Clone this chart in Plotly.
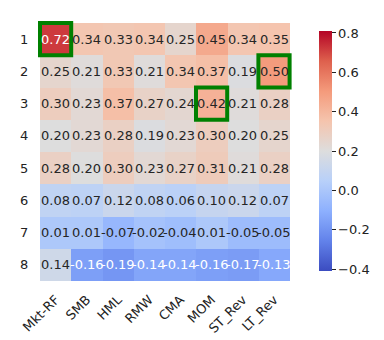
import plotly.graph_objects as go


factors = ["Mkt-RF", "SMB", "HML", "RMW", "CMA", "MOM", "ST_Rev", "LT_Rev"]
rows = ["1", "2", "3", "4", "5", "6", "7", "8"]

corr = [
    [0.72, 0.34, 0.33, 0.34, 0.25, 0.45, 0.34, 0.35],
    [0.25, 0.21, 0.33, 0.21, 0.34, 0.37, 0.19, 0.50],
    [0.30, 0.23, 0.37, 0.27, 0.24, 0.42, 0.21, 0.28],
    [0.20, 0.23, 0.28, 0.19, 0.23, 0.30, 0.20, 0.25],
    [0.28, 0.20, 0.30, 0.23, 0.27, 0.31, 0.21, 0.28],
    [0.08, 0.07, 0.12, 0.08, 0.06, 0.10, 0.12, 0.07],
    [0.01, 0.01, -0.07, -0.02, -0.04, 0.01, -0.05, -0.05],
    [0.14, -0.16, -0.19, -0.14, -0.14, -0.16, -0.17, -0.13],
]

# cells outlined in green (row label, factor)
highlight = [("1", "Mkt-RF"), ("2", "LT_Rev"), ("3", "MOM")]

# matplotlib "coolwarm"
coolwarm = [
    (0.0, "rgb(59,76,192)"),
    (0.125, "rgb(98,130,234)"),
    (0.25, "rgb(141,176,254)"),
    (0.375, "rgb(184,208,249)"),
    (0.5, "rgb(221,221,221)"),
    (0.625, "rgb(245,196,173)"),
    (0.75, "rgb(244,154,123)"),
    (0.875, "rgb(222,96,77)"),
    (1.0, "rgb(180,4,38)"),
]

font = "DejaVu Sans"

fig = go.Figure()
fig.add_trace(go.Heatmap(
    z=corr, x=factors, y=rows,
    colorscale=coolwarm, zmin=-0.41, zmax=0.81,
    showscale=True,
    colorbar=dict(
        x=1.0625, xanchor="left", y=0.5, yanchor="middle",
        len=1.0, lenmode="fraction", thickness=13,
        outlinewidth=0,
        tickvals=[-0.4, -0.2, 0.0, 0.2, 0.4, 0.6, 0.8],
        tickformat=".1f",
        ticks="outside", ticklen=4, tickcolor="#222",
        tickfont=dict(family=font, size=13, color="#222"),
    ),
))

# cell labels (placed by category index)
for i, r in enumerate(rows):
    for j, f in enumerate(factors):
        v = corr[i][j]
        col = "white" if (v > 0.6 or v < -0.1) else "#262626"
        fig.add_annotation(x=j, y=i, text=f"{v:.2f}", showarrow=False,
                           font=dict(family=font, size=13, color=col))

for r, f in highlight:
    i = rows.index(r)
    j = factors.index(f)
    fig.add_shape(type="rect", xref="x", yref="y",
                  x0=j - 0.5, x1=j + 0.5, y0=i - 0.5, y1=i + 0.5,
                  line=dict(color="green", width=4))

fig.update_xaxes(type="category", tickangle=-45, showgrid=False, zeroline=False,
                 ticks="outside", ticklen=5, tickcolor="rgba(0,0,0,0)",
                 tickfont=dict(family=font, size=13, color="#222"))
fig.update_yaxes(type="category", autorange="reversed", showgrid=False, zeroline=False,
                 ticks="outside", ticklen=6, tickcolor="rgba(0,0,0,0)",
                 tickfont=dict(family=font, size=13, color="#222"))

fig.update_layout(
    width=384, height=340,
    margin=dict(l=29, r=83, t=13, b=65),
    paper_bgcolor="white", plot_bgcolor="white",
    font=dict(family=font),
)

fig.write_html("out.html")
